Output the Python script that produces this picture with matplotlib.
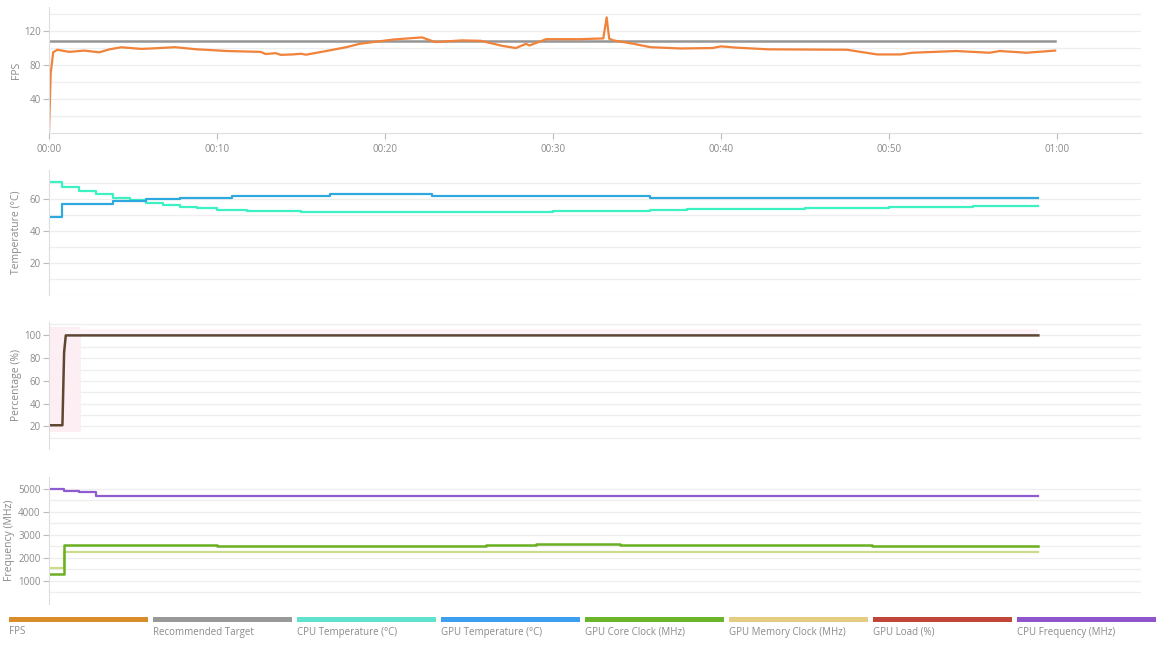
import matplotlib.pyplot as plt
import numpy as np
from matplotlib.ticker import FixedLocator, FuncFormatter

plt.rcParams['font.family'] = ['Open Sans', 'DejaVu Sans']

# ---- data (time in minutes) ----
fps_t = [0.0, 0.1, 0.25, 0.5, 1.2, 2.1, 3.0, 3.6, 4.3, 5.5, 6.3, 7.5, 8.8, 9.3, 10.6, 12.6, 12.9, 13.5,
         13.8, 14.5, 15.0, 15.3, 16.5, 17.7, 18.5, 20.5, 22.2, 23.0, 24.6, 25.7, 27.0, 27.8, 28.4, 28.6,
         29.6, 31.6, 33.0, 33.2, 33.35, 33.6, 34.8, 35.8, 37.6, 39.5, 40.0, 40.9, 42.8, 47.5, 49.3,
         50.7, 51.4, 54.0, 56.0, 56.6, 58.2, 59.9]
fps_v = [0, 70, 95, 98, 95.5, 97, 95, 98.5, 100.9, 99, 99.7, 101, 98.5, 98, 96.5, 95.5, 93, 94,
         92, 92.5, 93.3, 92.2, 96.5, 101, 105, 110, 112.5, 107, 109, 108.5, 102.5, 100, 105, 103,
         110.4, 110.4, 111.3, 136, 111, 109, 105, 101, 99.5, 100, 102, 100.5, 98.5, 98, 92.5,
         92.5, 94.5, 96.5, 94.5, 96.5, 94.5, 97]
target_t = [0.0, 59.9]
target_v = [108.5, 108.5]

temp_t = [0.0, 0.8, 1.8, 2.8, 3.8, 4.8, 5.8, 6.8, 7.8, 8.8, 10.0, 11.8, 15.0, 17.0, 22.8, 30.0,
          33.0, 35.8, 38.0, 45.0, 50.0, 55.0, 58.9]
cpu_temp = [70.4, 67.7, 65, 63, 60.8, 59.3, 57.7, 56.4, 55.2, 54.4, 53.3, 52.5, 52.2, 52, 52.2, 52.5,
            52.8, 53.5, 54, 54.5, 55, 55.5, 55.8]
gpu_temp_t = [0.0, 0.8, 3.8, 5.8, 7.8, 10.9, 16.7, 22.8, 35.8, 58.9]
gpu_temp = [48.8, 57, 59, 60, 61, 62, 63, 62, 61, 61]

load_t = [0.0, 0.8, 0.9, 1.0, 58.9]
gpu_load = [21, 21, 85, 100, 100]

freq_t = [0.0, 0.8, 0.9, 1.8, 2.8, 6.0, 10.0, 15.0, 22.0, 26.0, 29.0, 34.0, 39.0, 43.0, 48.0,
          49.0, 53.0, 58.9]
cpu_freq = [5000, 5000, 4900, 4860, 4700, 4690, 4700, 4690, 4700, 4690, 4700, 4690, 4700, 4700,
            4690, 4690, 4700, 4690]
gpu_core = [1300, 1300, 2550, 2550, 2550, 2540, 2530, 2510, 2530, 2540, 2580, 2560, 2540, 2540,
            2550, 2490, 2520, 2530]
mem_t = [0.0, 0.8, 0.9, 58.9]
gpu_mem = [1550, 1550, 2240, 2240]

legend_names = ['FPS', 'Recommended Target', 'CPU Temperature (°C)', 'GPU Temperature (°C)',
                'GPU Core Clock (MHz)', 'GPU Memory Clock (MHz)', 'GPU Load (%)', 'CPU Frequency (MHz)']
legend_colors = ['#d98c2a', '#999999', '#5fe3cf', '#3d9ff0', '#6cb52a', '#e3cd82', '#c0463a', '#8e55cc']

tick_col = '#8a8a8a'
grid_col = '#eeeeee'

fig = plt.figure(figsize=(11.69, 6.5), dpi=100)

def panel(rect, ylim, major, minor, ylabel, lab_x=-0.025):
    ax = fig.add_axes(rect)
    ax.set_xlim(0, 65)
    ax.set_ylim(*ylim)
    ax.yaxis.set_major_locator(FixedLocator(major))
    ax.yaxis.set_minor_locator(FixedLocator(minor))
    ax.grid(True, which='both', axis='y', color=grid_col, lw=0.9)
    ax.set_axisbelow(True)
    for s in ['top', 'right', 'bottom']:
        ax.spines[s].set_visible(False)
    ax.spines['left'].set_color('#dddddd')
    ax.tick_params(axis='y', which='major', colors='#bbbbbb', labelcolor=tick_col, labelsize=7,
                   length=4, width=0.8, pad=2)
    ax.tick_params(axis='y', which='minor', length=0)
    ax.set_ylabel(ylabel, color=tick_col, fontsize=7.5)
    ax.yaxis.set_label_coords(lab_x, 0.5)
    ax.set_xticks([])
    return ax

ax1 = panel([0.0419, 0.795, 0.934, 0.194], (0, 148), [40, 80, 120], [20, 60, 100, 140], 'FPS')
ax1.plot(target_t, target_v, color='#959595', lw=1.8)
ax1.plot(fps_t, fps_v, color='#f0823a', lw=1.6)
ax1.spines['bottom'].set_visible(True)
ax1.spines['bottom'].set_color('#dddddd')
ax1.set_xticks(np.arange(0, 61, 10))
ax1.xaxis.set_major_formatter(FuncFormatter(lambda v, p: '%02d:%02d' % (int(v) // 60, int(v) % 60)))
ax1.tick_params(axis='x', colors='#bbbbbb', labelcolor=tick_col, labelsize=7, length=4, width=0.8)

ax2 = panel([0.0419, 0.546, 0.934, 0.192], (0, 78), [20, 40, 60], [10, 30, 50, 70], 'Temperature (°C)')
ax2.axhline(0, color='#eeeeee', lw=0.9)
ax2.plot(temp_t, cpu_temp, color='#3cf2c2', lw=1.6, drawstyle='steps-post')
ax2.plot(gpu_temp_t, gpu_temp, color='#2fa8dd', lw=1.6, drawstyle='steps-post')

ax3 = panel([0.0419, 0.309, 0.934, 0.196], (0, 112), [20, 40, 60, 80, 100],
            [10, 30, 50, 70, 90, 110], 'Percentage (%)')
ax3.fill_between([0.0, 1.9], [15, 15], [107, 107], color='#fdeef4', lw=0)
ax3.fill_between([1.0, 58.9], [100, 100], [106, 106], color='#fdf3f7', lw=0)
ax3.plot(load_t, gpu_load, color='#5e4631', lw=1.8)

ax4 = panel([0.0419, 0.071, 0.934, 0.195], (0, 5500), [1000, 2000, 3000, 4000, 5000],
            [500, 1500, 2500, 3500, 4500], 'Frequency (MHz)', lab_x=-0.031)
ax4.plot(freq_t, cpu_freq, color='#8e5bd0', lw=1.6, drawstyle='steps-post')
ax4.plot(mem_t, gpu_mem, color='#cadb8c', lw=1.6, drawstyle='steps-post')
ax4.plot(freq_t, gpu_core, color='#6ab023', lw=1.8, drawstyle='steps-post')

# legend strip
for i, (name, col) in enumerate(zip(legend_names, legend_colors)):
    x0 = (9 + i * 144) / 1169
    fig.patches.append(plt.Rectangle((x0, 1 - 622 / 650), 139 / 1169, 5 / 650,
                                     transform=fig.transFigure, color=col, lw=0))
    fig.text(x0, 1 - 632 / 650, name, color=tick_col, fontsize=7, va='center', ha='left')

fig.savefig('out.png', dpi=100)
